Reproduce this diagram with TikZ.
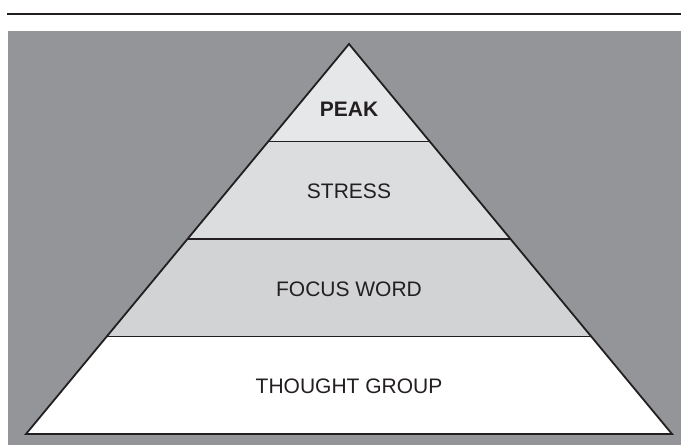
\documentclass[tikz,border=0pt]{standalone}
\usepackage{fontspec}
\setmainfont{Liberation Sans}
\usetikzlibrary{calc}
\definecolor{bggray}{HTML}{939598}
\definecolor{peakc}{HTML}{E6E7E8}
\definecolor{stressc}{HTML}{DCDDDF}
\definecolor{focusc}{HTML}{D1D3D4}
\definecolor{ink}{HTML}{231F20}
\begin{document}
\begin{tikzpicture}[x=1pt,y=-1pt,
  layer/.style={draw=ink,line width=1.8pt,line join=miter},
  lbl/.style={text=ink,font=\fontsize{21}{25}\selectfont,inner sep=0pt}]
\useasboundingbox (0,0) rectangle (681,445);
\fill[white] (0,0) rectangle (681,445);
\draw[ink,line width=1.8pt] (7,14) -- (681,14);
\fill[bggray] (8,31) rectangle (681,445);
% pyramid geometry: apex (349,44), base y=434 from 26 to 672
\coordinate (apex) at (349,44);
\coordinate (bl) at (26,434);
\coordinate (br) at (672,434);
\coordinate (l1) at ($(apex)!0.25!(bl)$);
\coordinate (r1) at ($(apex)!0.25!(br)$);
\coordinate (l2) at ($(apex)!0.5!(bl)$);
\coordinate (r2) at ($(apex)!0.5!(br)$);
\coordinate (l3) at ($(apex)!0.75!(bl)$);
\coordinate (r3) at ($(apex)!0.75!(br)$);
\fill[peakc] (apex) -- (l1) -- (r1) -- cycle;
\fill[stressc] (l1) -- (l2) -- (r2) -- (r1) -- cycle;
\fill[focusc] (l2) -- (l3) -- (r3) -- (r2) -- cycle;
\fill[white] (l3) -- (bl) -- (br) -- (r3) -- cycle;
\draw[layer] (l1) -- (r1) (l2) -- (r2) (l3) -- (r3);
\draw[layer] (apex) -- (bl) -- (br) -- cycle;
\node[lbl,font=\fontsize{21}{25}\selectfont\bfseries] (peak) at (349,109) {PEAK};
\node[lbl] (stress) at (349,191) {STRESS};
\node[lbl] (focus) at (349,289) {FOCUS WORD};
\node[lbl] (thought) at (349,386) {THOUGHT GROUP};
\end{tikzpicture}
\end{document}
